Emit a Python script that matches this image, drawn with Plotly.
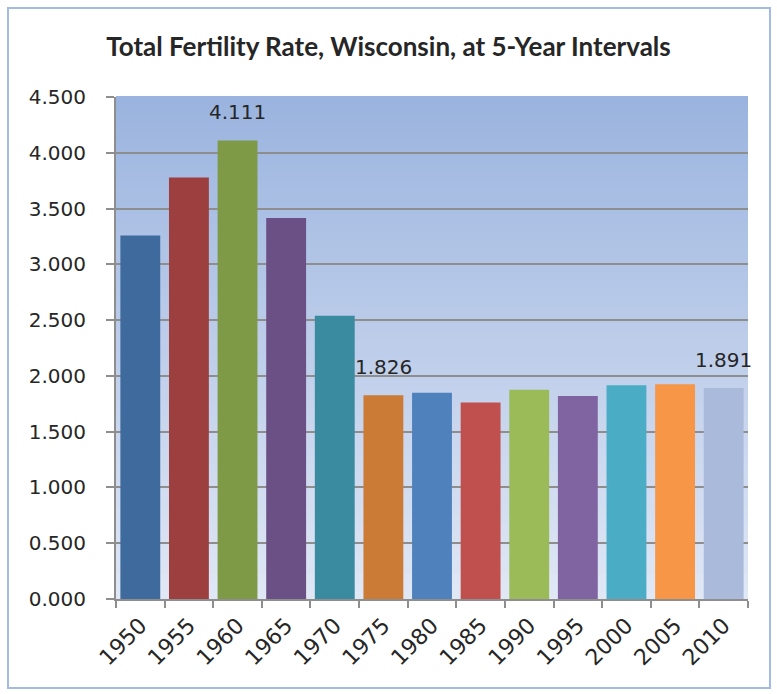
import plotly.graph_objects as go

years = ["1950", "1955", "1960", "1965", "1970", "1975", "1980",
         "1985", "1990", "1995", "2000", "2005", "2010"]
rates = [3.258, 3.779, 4.111, 3.415, 2.540, 1.826, 1.848,
         1.762, 1.875, 1.820, 1.915, 1.925, 1.891]
labelled = ["1960", "1975", "2010"]
bar_colors = ["#3E6A9D", "#9D3F3E", "#7E9A47", "#6A5084", "#3A8BA0", "#CB7B36", "#4F81BD",
              "#C0504D", "#9BBB59", "#8064A2", "#4BACC6", "#F79646", "#AABADA"]

TITLE_FONT = "Lato, 'Open Sans', sans-serif"
LABEL_FONT = "'DejaVu Sans', sans-serif"
L, R, T, B = 116, 29, 97, 95
PW, PH = 777 - L - R, 694 - T - B

fig = go.Figure(
    go.Bar(
        x=years,
        y=rates,
        marker=dict(color=bar_colors, line=dict(width=0)),
        hoverinfo="x+y",
    )
)

# value labels for a few selected years, floated above the bar tops
# (annotations on a category axis take the category index)
for i, (yr, v) in enumerate(zip(years, rates)):
    if yr in labelled:
        fig.add_annotation(
            x=i, y=v, text=f"{v:.3f}", showarrow=False,
            yanchor="bottom", yshift=14,
            font=dict(size=20, color="#262626", family=LABEL_FONT),
        )

# vertical gradient behind the bars (dark blue at top, pale at bottom)
top, bottom = (155, 180, 223), (224, 231, 245)
n = 60
shapes = []
for i in range(n):
    t = i / (n - 1)
    c = tuple(round(bottom[k] + (top[k] - bottom[k]) * t) for k in range(3))
    shapes.append(dict(
        type="rect", xref="x domain", yref="y domain",
        x0=0, x1=1, y0=i / n, y1=(i + 1) / n + 0.002,
        fillcolor=f"rgb{c}", line=dict(width=0), layer="below",
    ))
# outer chart border
shapes.append(dict(
    type="rect", xref="paper", yref="paper",
    x0=(8 - L) / PW, x1=(770 - L) / PW,
    y0=-(688 - (694 - B)) / PH, y1=1 + (T - 8) / PH,
    line=dict(color="#A3BBE0", width=2), layer="above",
))

fig.update_layout(
    width=777, height=694,
    margin=dict(l=L, r=R, t=T, b=B, autoexpand=False),
    paper_bgcolor="white",
    plot_bgcolor="white",
    shapes=shapes,
    showlegend=False,
    bargap=0.18,
    title=dict(
        text="<b>Total Fertility Rate, Wisconsin, at 5-Year Intervals</b>",
        x=0.5, xanchor="center", y=1 - 47 / 694, yanchor="middle",
        font=dict(size=26, color="#262626", family=TITLE_FONT),
    ),
    font=dict(family=LABEL_FONT, color="#262626"),
)
fig.update_yaxes(
    range=[0, 4.5], dtick=0.5, tickformat=".3f", automargin=False,
    showgrid=True, gridcolor="#8E8E8E", gridwidth=1.5,
    showline=True, linecolor="#8E8E8E", linewidth=2,
    ticks="outside", ticklen=8, tickcolor="#8E8E8E", tickwidth=1.5,
    ticklabelstandoff=16,
    tickfont=dict(size=20, color="#262626"), zeroline=False,
)
fig.update_xaxes(
    type="category", range=[-0.5, len(years) - 0.5], tickangle=-45, automargin=False,
    showline=True, linecolor="#8E8E8E", linewidth=2,
    ticks="outside", tickson="boundaries", ticklen=7, tickcolor="#8E8E8E", tickwidth=1.5,
    ticklabelstandoff=3,
    tickfont=dict(size=22, color="#262626"), showgrid=False,
)

fig.write_html(
    "out.html",
    config={"displayModeBar": False},
    post_script="document.body.style.margin='0';",
)
